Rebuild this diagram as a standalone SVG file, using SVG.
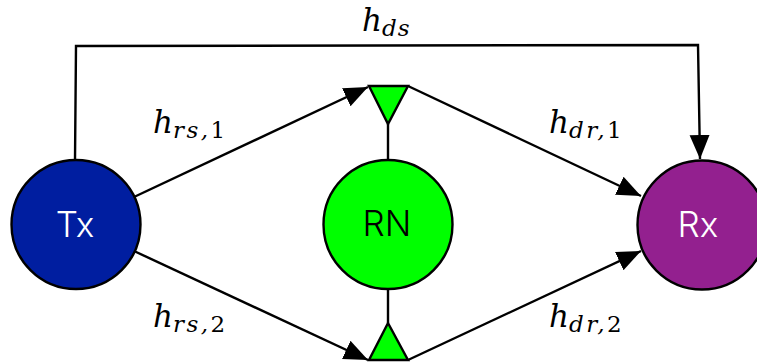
<svg xmlns="http://www.w3.org/2000/svg" width="757" height="362" viewBox="0 0 757 362">
<style>
.l{fill:none;stroke:#000;stroke-width:2.4}
.n{stroke:#000;stroke-width:2.4}
.t{font-family:"Inter",sans-serif;font-weight:300;font-size:35px;text-anchor:middle}
.m{font-family:"DejaVu Serif",serif;font-style:italic;font-weight:400;font-size:31px;fill:#000}
.s{font-size:23px;letter-spacing:1px}
.w{letter-spacing:2.5px}
.d{font-style:normal}
</style>
<defs>
<marker id="a" markerUnits="userSpaceOnUse" markerWidth="26" markerHeight="22" refX="24" refY="10" orient="auto" viewBox="0 0 26 20">
<path d="M0 0L24 10L0 20L0 0Z" fill="#000"/>
</marker>
</defs>
<rect width="757" height="362" fill="#fff"/>
<g id="connectors">
<path class="l" d="M75 160L76 46L698 45L700 159" marker-end="url(#a)"/>
<path class="l" d="M134 197L368 87" marker-end="url(#a)"/>
<path class="l" d="M134 251L368 360" marker-end="url(#a)"/>
<path class="l" d="M408 86L641 196" marker-end="url(#a)"/>
<path class="l" d="M408 360L641 251" marker-end="url(#a)"/>
<path class="l" d="M388 124V160"/>
<path class="l" d="M388 288V323"/>
</g>
<g id="tx"><circle class="n" cx="76" cy="224.500" r="64.500" fill="#001ea0"/><text class="t" x="75" y="237" fill="#fff">Tx</text></g>
<g id="rn"><circle class="n" cx="388" cy="224.500" r="64.500" fill="#00ff00"/><text class="t" x="387" y="236" fill="#000">RN</text></g>
<g id="rx"><circle class="n" cx="702" cy="225" r="64.500" fill="#93208f"/><text class="t" x="698" y="237" fill="#fff">Rx</text></g>
<g id="antenna-top"><path class="n" d="M369 86H408L388 124Z" fill="#00ff00"/></g>
<g id="antenna-bottom"><path class="n" d="M369 360H408L388 323Z" fill="#00ff00"/></g>
<g id="labels">
<text class="m" x="362" y="31">h<tspan class="s" dy="5">ds</tspan></text>
<text class="m" x="153" y="133">h<tspan class="s w" dy="5">rs,<tspan class="d">1</tspan></tspan></text>
<text class="m" x="153" y="327">h<tspan class="s w" dy="5">rs,<tspan class="d">2</tspan></tspan></text>
<text class="m" x="549" y="133">h<tspan class="s w" dy="5">dr,<tspan class="d">1</tspan></tspan></text>
<text class="m" x="549" y="327">h<tspan class="s w" dy="5">dr,<tspan class="d">2</tspan></tspan></text>
</g>
</svg>
